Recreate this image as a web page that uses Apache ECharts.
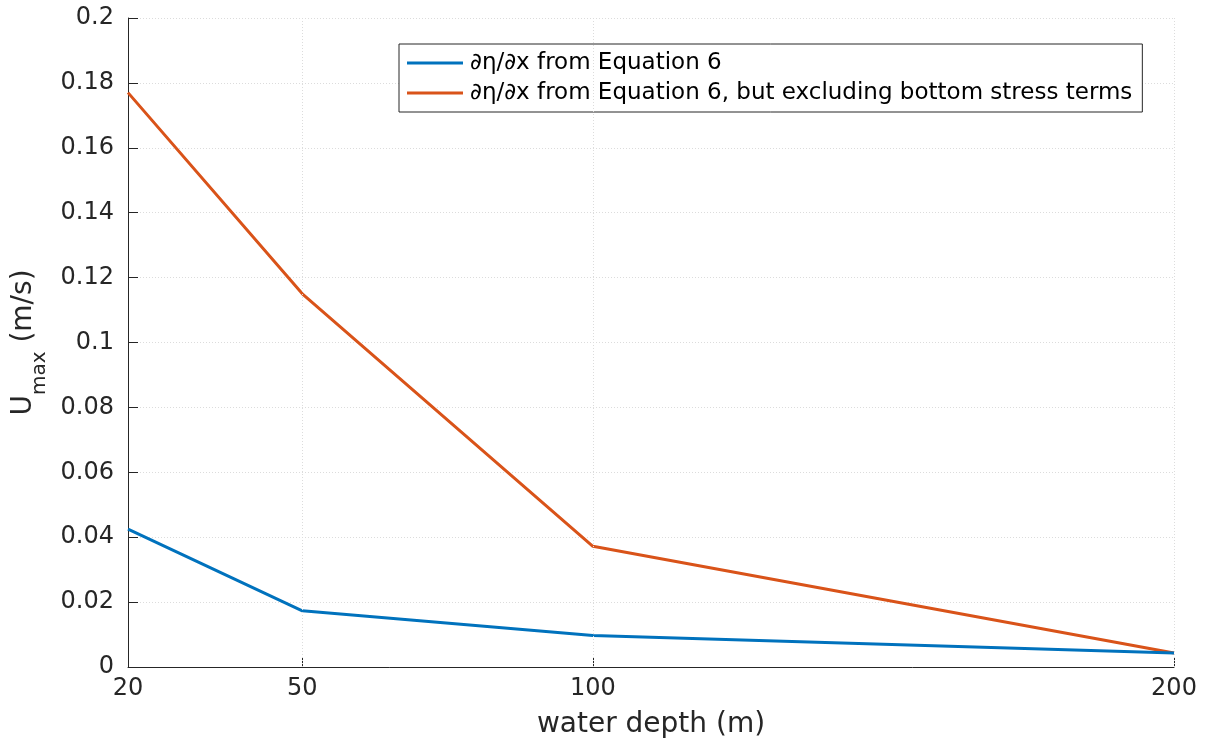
<!DOCTYPE html>
<html><head><meta charset="utf-8">
<script src="https://cdn.jsdelivr.net/npm/echarts@6/dist/echarts.min.js"></script>
<style>html,body{margin:0;padding:0;background:#fff}#c{width:1208px;height:745px}</style>
</head><body><div id="c"></div>
<script>
const depths = [20, 50, 100, 200];
const xTicks = [20, 50, 100, 200];
const withBottomStress = [0.0425, 0.0173, 0.0097, 0.0043];
const withoutBottomStress = [0.177, 0.115, 0.0372, 0.0043];
const seriesNames = ['∂η/∂x from Equation 6', '∂η/∂x from Equation 6, but excluding bottom stress terms'];

const font = 'DejaVu Sans';
const axisCol = '#262626';
const chart = echarts.init(document.getElementById('c'));
const pairs = a => depths.map((d, i) => [d, a[i]]);
chart.setOption({
  animation: false,
  textStyle: { fontFamily: font },
  grid: { left: 128, right: 34, top: 18, bottom: 78 },
  legend: {
    orient: 'vertical', left: 399, top: 44,
    padding: [5, 10, 5, 8], itemGap: 2,
    borderColor: '#262626', borderWidth: 1, backgroundColor: '#fff',
    icon: 'rect', itemWidth: 56, itemHeight: 3,
    textStyle: { fontFamily: font, fontSize: 23, lineHeight: 28, color: '#000', padding: [0, 0, 0, 2] },
    data: seriesNames
  },
  xAxis: {
    type: 'value', min: 20, max: 200, interval: 10,
    name: 'water depth (m)', nameLocation: 'middle', nameGap: 44,
    nameTextStyle: { fontFamily: font, fontSize: 28, color: axisCol },
    axisLine: { lineStyle: { color: axisCol, width: 1 } },
    axisTick: { inside: true, length: 10, customValues: xTicks, lineStyle: { color: axisCol } },
    axisLabel: { customValues: xTicks, fontFamily: font, fontSize: 24, color: axisCol, margin: 10 },
    splitLine: { show: false }
  },
  yAxis: {
    type: 'value', min: 0, max: 0.2, interval: 0.02,
    name: '{u|U}{sub|max}{u| (m/s)}', nameLocation: 'middle', nameGap: 80,
    nameTextStyle: { fontFamily: font, fontSize: 28, color: axisCol,
      rich: {
        u: { fontFamily: font, fontSize: 28, lineHeight: 28, color: axisCol, verticalAlign: 'top' },
        sub: { fontFamily: font, fontSize: 20, lineHeight: 20, color: axisCol, verticalAlign: 'top', padding: [20, 0, 0, 0] }
      } },
    axisLine: { show: true, lineStyle: { color: axisCol, width: 1 } },
    axisTick: { show: true, inside: true, length: 10, lineStyle: { color: axisCol } },
    axisLabel: { fontFamily: font, fontSize: 24, color: axisCol, margin: 14,
      formatter: v => (Math.round(v * 100) / 100).toString() },
    splitLine: { show: true, lineStyle: { color: '#dcdcdc', type: [1, 2], width: 1 } }
  },
  series: [
    {
      name: seriesNames[0], type: 'line', data: pairs(withBottomStress),
      symbol: 'none', lineStyle: { width: 3, color: '#0072BD' }, itemStyle: { color: '#0072BD' }, z: 3,
      markLine: {
        silent: true, symbol: 'none', label: { show: false },
        lineStyle: { color: '#dcdcdc', type: [1, 2], width: 1 },
        data: xTicks.slice(1).map(v => ({ xAxis: v }))
      }
    },
    {
      name: seriesNames[1], type: 'line', data: pairs(withoutBottomStress),
      symbol: 'none', lineStyle: { width: 3, color: '#D95319' }, itemStyle: { color: '#D95319' }, z: 2
    }
  ]
});
</script></body></html>
